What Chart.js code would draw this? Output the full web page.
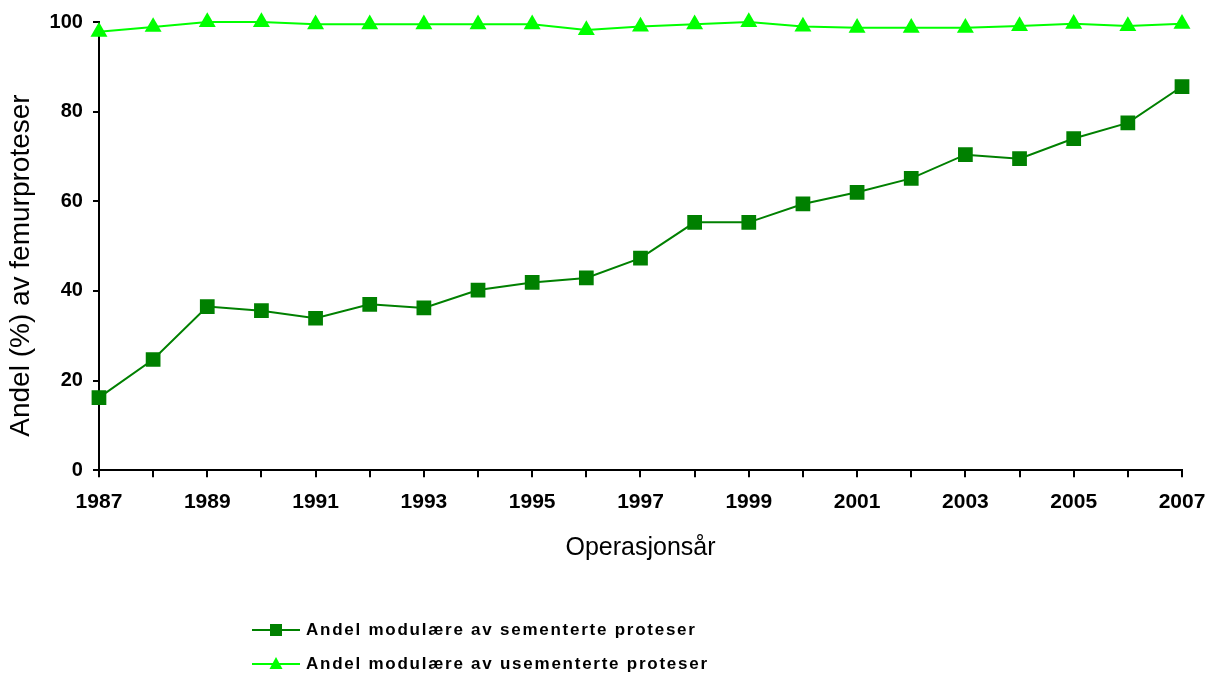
<!DOCTYPE html>
<html>
<head>
<meta charset="utf-8">
<script src="https://cdn.jsdelivr.net/npm/chart.js@4.4.0/dist/chart.umd.min.js"></script>
<style>
    body { margin: 0; background: #fff; }
    #wrap { position: relative; width: 1213px; height: 677px; }
    #legend { position: absolute; left: 252px; top: 613px; font-family: Arial, "Liberation Sans", sans-serif;
        font-weight: bold; font-size: 17px; letter-spacing: 1.75px; color: #000; }
    .item { display: flex; align-items: center; height: 34px; }
    .item canvas { margin-right: 6px; }
</style>
</head>
<body>
<div id="wrap">
    <canvas id="Chart" width="1213" height="677"></canvas>
    <div id="legend"></div>
</div>
<script>
const years = ['1987', '1988', '1989', '1990', '1991', '1992', '1993', '1994', '1995', '1996', '1997',
    '1998', '1999', '2000', '2001', '2002', '2003', '2004', '2005', '2006', '2007'];
const sementerte = [16.2, 24.7, 36.5, 35.6, 33.9, 37.0, 36.2, 40.2, 41.9, 42.9, 47.3,
    55.3, 55.3, 59.4, 62.0, 65.1, 70.4, 69.5, 74.0, 77.5, 85.6];
const usementerte = [97.8, 98.9, 100, 100, 99.5, 99.5, 99.5, 99.5, 99.5, 98.2, 99.0,
    99.5, 100, 99.0, 98.7, 98.7, 98.7, 99.1, 99.6, 99.1, 99.6];
const labelSem = 'Andel modulære av sementerte proteser';
const labelUsem = 'Andel modulære av usementerte proteser';

const fam = 'Arial, "Liberation Sans", sans-serif';

let chart = new Chart(document.getElementById('Chart'), {
    type: 'line',
    data: {
        labels: years,
        datasets: [{
            label: labelSem,
            data: sementerte,
            borderColor: '#008000',
            backgroundColor: '#008000',
            borderWidth: 2,
            pointStyle: 'rect',
            pointRadius: 9,
            pointHoverRadius: 9,
            clip: false,
            tension: 0
        }, {
            label: labelUsem,
            data: usementerte,
            borderColor: '#00FF00',
            backgroundColor: '#00FF00',
            borderWidth: 2,
            pointStyle: 'triangle',
            pointRadius: 7.8,
            pointHoverRadius: 7.8,
            clip: false,
            tension: 0
        }]
    },
    options: {
        responsive: false,
        animation: false,
        layout: {padding: {top: 20, right: 31, bottom: 114, left: 4}},
        plugins: {legend: {display: false}, tooltip: {enabled: false}},
        scales: {
            x: {
                offset: false,
                grid: {drawOnChartArea: false, color: '#000', lineWidth: 2, tickLength: 7},
                border: {color: '#000', width: 2},
                ticks: {
                    color: '#000', font: {family: fam, size: 21, weight: 'bold', lineHeight: 1.8}, autoSkip: false, maxRotation: 0, padding: 6,
                    callback: function (v, i) { return i % 2 === 0 ? years[i] : ''; }
                },
                title: {display: true, text: 'Operasjonsår', color: '#000', font: {family: fam, size: 25}, padding: {top: 6, bottom: 0}}
            },
            y: {
                min: 0, max: 100,
                grid: {drawOnChartArea: false, color: '#000', lineWidth: 2, tickLength: 6},
                border: {color: '#000', width: 2},
                ticks: {stepSize: 20, color: '#000', font: {family: fam, size: 20, weight: 'bold'}, padding: 10},
                // trailing spaces push the title a bit below the axis centre, as in the original
                title: {display: true, text: 'Andel (%) av femurproteser     ', color: '#000', font: {family: fam, size: 28}, padding: {top: 0, bottom: 2}}
            }
        }
    }
});

// legend drawn as html with a small line+marker sample per dataset
let legend = document.getElementById('legend');
chart.data.datasets.forEach(function (ds) {
    let item = document.createElement('div');
    item.className = 'item';
    let c = document.createElement('canvas');
    c.width = 48; c.height = 20;
    let ctx = c.getContext('2d');
    ctx.strokeStyle = ds.borderColor;
    ctx.lineWidth = 2;
    ctx.beginPath(); ctx.moveTo(0, 10); ctx.lineTo(48, 10); ctx.stroke();
    ctx.fillStyle = ds.backgroundColor;
    if (ds.pointStyle === 'rect') {
        ctx.fillRect(18, 4, 12, 12);
    } else {
        ctx.beginPath(); ctx.moveTo(24, 3); ctx.lineTo(30.5, 15); ctx.lineTo(17.5, 15); ctx.closePath(); ctx.fill();
    }
    item.appendChild(c);
    let span = document.createElement('span');
    span.textContent = ds.label;
    item.appendChild(span);
    legend.appendChild(item);
});
</script>
</body>
</html>
